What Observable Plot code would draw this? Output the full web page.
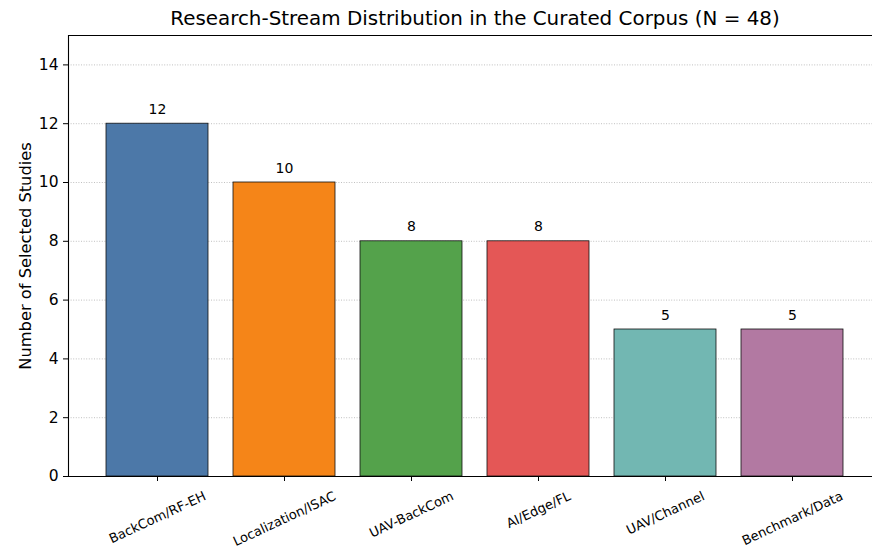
<!DOCTYPE html>
<html>
<head>
<meta charset="utf-8">
<script src="https://cdn.jsdelivr.net/npm/d3@7"></script>
<script src="https://cdn.jsdelivr.net/npm/@observablehq/plot@0.6"></script>
<style>
  html, body { margin: 0; padding: 0; background: #fff; }
  body { width: 872px; height: 546px; overflow: hidden; font-family: "DejaVu Sans", sans-serif; }
  #title { height: 26px; padding-top: 4px; line-height: 30px; font-size: 19.9px; color: #000;
           white-space: nowrap; box-sizing: content-box; width: 950px; margin-left: 0; text-align: center; }
  #chart svg { display: block; }
</style>
</head>
<body>
<div id="title">Research-Stream Distribution in the Curated Corpus (N = 48)</div>
<div id="chart"></div>
<script>
const categories = ["BackCom/RF-EH", "Localization/ISAC", "UAV-BackCom", "AI/Edge/FL", "UAV/Channel", "Benchmark/Data"];
const counts = [12, 10, 8, 8, 5, 5];
const palette = ["#4c78a8", "#f58518", "#54a24b", "#e45756", "#72b7b2", "#b279a2"];
const yTicks = [0, 2, 4, 6, 8, 10, 12, 14];
const yLabel = "Number of Selected Studies";

const data = categories.map((c, i) => ({cat: c, value: counts[i]}));

// measure label widths to place rotated labels like matplotlib (ha=center)
const ctx = document.createElement("canvas").getContext("2d");
const xFont = 13;
ctx.font = `${xFont}px "DejaVu Sans"`;
const ang = 25 * Math.PI / 180;
const xLabelMarks = categories.map(c => {
  const w = ctx.measureText(c).width;
  const H = 1.164 * xFont;
  const bh = w * Math.sin(ang) + H * Math.cos(ang);
  return Plot.text([c], {
    x: d => d, frameAnchor: "bottom", text: d => d,
    rotate: -25, textAnchor: "middle", lineAnchor: "middle",
    dy: 12 + bh / 2, fontSize: xFont, fill: "#000"
  });
});

const chart = Plot.plot({
  width: 872,
  height: 516,
  marginLeft: 68,
  marginRight: 0,
  marginTop: 5,
  marginBottom: 70,
  style: {fontFamily: "DejaVu Sans", fontSize: "15px", color: "#000", background: "#fff", overflow: "hidden"},
  x: {type: "band", domain: categories, range: [68, 881], paddingInner: 0.2, paddingOuter: 0.29, align: 0.5},
  y: {domain: [0, 15]},
  color: {domain: categories, range: palette},
  marks: [
    Plot.gridY(yTicks.filter(t => t > 0), {stroke: "#b0b0b0", strokeOpacity: 1, strokeWidth: 0.8, strokeDasharray: "1,1.6"}),
    Plot.barY(data, {x: "cat", y: "value", fill: "cat", stroke: "#111", strokeWidth: 0.8}),
    Plot.text(data, {x: "cat", y: "value", text: d => String(d.value), dy: -10, lineAnchor: "bottom", fontSize: 14, fill: "#000"}),
    Plot.axisY({ticks: yTicks, tickSize: 5, tickPadding: 5, fontSize: 15.5, label: null, strokeWidth: 1}),
    Plot.axisX({tickSize: 5, tickFormat: () => "", label: null}),
    Plot.ruleY([0, 15], {stroke: "#000", strokeWidth: 1.1}),
    Plot.frame({anchor: "left", stroke: "#000", strokeWidth: 1.1}),
    Plot.text([yLabel], {frameAnchor: "left", text: d => d, rotate: -90, dx: -43, fontSize: 16.3, fill: "#000", textAnchor: "middle", lineAnchor: "middle"}),
    ...xLabelMarks
  ]
});
document.getElementById("chart").appendChild(chart);
</script>
</body>
</html>
